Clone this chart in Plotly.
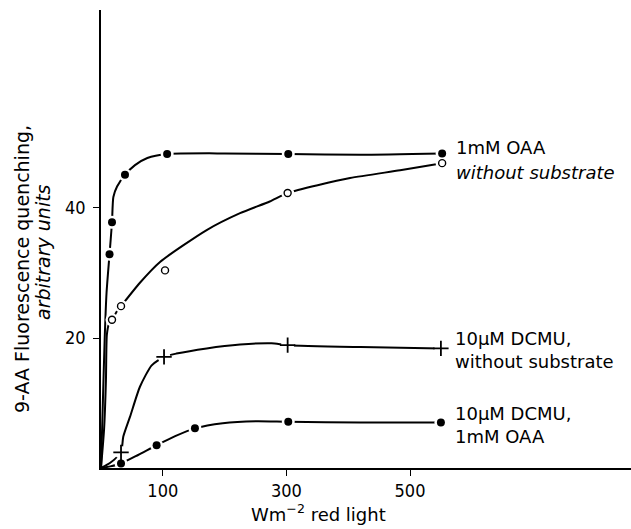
import plotly.graph_objects as go

# ---- measured points (x: W m^-2 red light, y: 9-AA fluorescence quenching, arbitrary units)
oaa_x = [13.8, 17.8, 38.8, 107, 303, 552]
oaa_y = [32.9, 37.8, 45.1, 48.3, 48.3, 48.4]
nosub_x = [17.8, 32.4, 103.6, 302, 552]
nosub_y = [22.8, 24.9, 30.4, 42.3, 46.9]
dcmu_x = [32.4, 102, 302, 550]
dcmu_y = [2.4, 17.1, 18.9, 18.4]
dcmu_oaa_x = [32.4, 90, 152, 303, 550]
dcmu_oaa_y = [0.7, 3.5, 6.1, 7.1, 7.0]

# ---- hand-drawn fitted curves
oaa_curve_x = [0, 3, 6, 9, 13.8, 17.8, 20, 26, 38.8, 55, 75, 107, 200, 303, 420, 552]
oaa_curve_y = [0, 10, 20, 27, 32.9, 37.8, 41.7, 43.3, 45.1, 46.6, 47.7, 48.3, 48.4, 48.3, 48.2, 48.4]
nosub_curve_x = [0, 5, 8, 9.5, 13, 17.8, 25, 32.4, 63, 95.5, 171, 225, 273, 302, 403, 484, 552]
nosub_curve_y = [0, 6, 13.5, 20.5, 22.2, 22.8, 24.0, 24.9, 28.5, 31.7, 36.6, 39.2, 41.0, 42.3, 44.6, 45.8, 46.9]
dcmu_curve_x = [0, 15, 32.4, 36, 47, 63, 82, 102, 122, 171, 225, 276, 302, 420, 550]
dcmu_curve_y = [0, 0.8, 2.4, 4.8, 7.9, 12.5, 15.8, 17.1, 17.6, 18.4, 19.0, 19.2, 18.9, 18.6, 18.4]
dcmu_oaa_curve_x = [0, 15, 32.4, 60, 90, 120, 152, 197, 252, 303, 420, 550]
dcmu_oaa_curve_y = [0, 0.25, 0.7, 2.0, 3.5, 4.9, 6.1, 6.9, 7.2, 7.1, 7.0, 7.0]

x_ticks = [100, 300, 500]
y_ticks = [20, 40]

labels = [
    ("1mM OAA", oaa_x, oaa_y, 6),
    ("<i>without substrate</i>", nosub_x, nosub_y, -9),
    ("10\u00b5M DCMU,<br>without substrate", dcmu_x, dcmu_y, -2),
    ("10\u00b5M DCMU,<br>1mM OAA", dcmu_oaa_x, dcmu_oaa_y, -2),
]

FONT = "DejaVu Sans"
TICKFONT = "Liberation Sans Narrow, DejaVu Sans Condensed, DejaVu Sans"

fig = go.Figure()

for cx, cy in [(oaa_curve_x, oaa_curve_y), (nosub_curve_x, nosub_curve_y),
               (dcmu_curve_x, dcmu_curve_y), (dcmu_oaa_curve_x, dcmu_oaa_curve_y)]:
    fig.add_trace(go.Scatter(x=cx, y=cy, mode="lines",
                             line=dict(color="black", width=2, shape="spline", smoothing=0.6),
                             hoverinfo="skip", showlegend=False))

# white halos that break the curves around each point
for px, py in [(oaa_x, oaa_y), (nosub_x, nosub_y), (dcmu_x, dcmu_y), (dcmu_oaa_x, dcmu_oaa_y)]:
    fig.add_trace(go.Scatter(x=px, y=py, mode="markers",
                             marker=dict(symbol="circle", size=13, color="white", line=dict(width=0)),
                             hoverinfo="skip", showlegend=False))

fig.add_trace(go.Scatter(x=oaa_x, y=oaa_y, mode="markers", showlegend=False,
                         marker=dict(symbol="circle", size=8, color="black")))
fig.add_trace(go.Scatter(x=nosub_x, y=nosub_y, mode="markers", showlegend=False,
                         marker=dict(symbol="circle-open", size=7, color="black", line=dict(width=1.4))))
fig.add_trace(go.Scatter(x=dcmu_x, y=dcmu_y, mode="markers", showlegend=False,
                         marker=dict(symbol="cross-thin", size=11, color="black", line=dict(width=1.8, color="black"))))
fig.add_trace(go.Scatter(x=dcmu_oaa_x, y=dcmu_oaa_y, mode="markers", showlegend=False,
                         marker=dict(symbol="circle", size=8, color="black")))

for text, lx, ly, dy in labels:
    fig.add_annotation(x=lx[-1], y=ly[-1], xref="x", yref="y", text=text, showarrow=False,
                       xanchor="left", yanchor="middle", align="left", xshift=12, yshift=dy,
                       font=dict(family=FONT, size=18, color="black"))

# y-axis title (two lines)
fig.add_annotation(xref="paper", yref="paper", x=(22 - 101) / 530, y=(468 - 269) / 458,
                   text="9-AA Fluorescence quenching,", textangle=-90, showarrow=False,
                   xanchor="center", yanchor="middle", font=dict(family=FONT, size=19, color="black"))
fig.add_annotation(xref="paper", yref="paper", x=(43 - 101) / 530, y=(468 - 252) / 458,
                   text="<i>arbitrary units</i>", textangle=-90, showarrow=False,
                   xanchor="center", yanchor="middle", font=dict(family=FONT, size=19, color="black"))
# x-axis title
fig.add_annotation(xref="paper", yref="paper", x=(318 - 101) / 530, y=(468 - 513) / 458,
                   text="Wm<sup>\u22122</sup> red light", showarrow=False,
                   xanchor="center", yanchor="middle", font=dict(family=FONT, size=18, color="black"))

fig.update_xaxes(range=[0, 857.6], showline=True, linecolor="black", linewidth=1.5,
                 ticks="outside", ticklen=6, tickwidth=1.2, tickcolor="black",
                 tickvals=x_ticks, ticktext=[str(v) for v in x_ticks],
                 showgrid=False, zeroline=False,
                 tickfont=dict(family=TICKFONT, size=18, color="black"))
fig.update_yaxes(range=[0, 70.46], showline=True, linecolor="black", linewidth=1.5,
                 ticks="outside", ticklen=6, tickwidth=1.2, tickcolor="black",
                 tickvals=y_ticks, ticktext=[str(v) for v in y_ticks],
                 showgrid=False, zeroline=False, ticklabelstandoff=4,
                 tickfont=dict(family=TICKFONT, size=18, color="black"))

fig.update_layout(width=631, height=529, margin=dict(l=101, r=0, t=10, b=61),
                  plot_bgcolor="white", paper_bgcolor="white", showlegend=False)

fig.write_html("out.html")
